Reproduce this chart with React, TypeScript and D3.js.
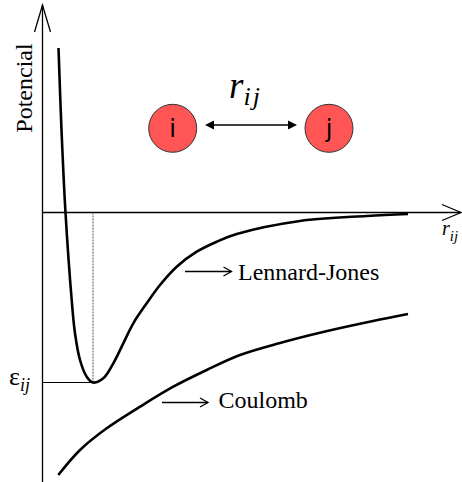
import { useMemo } from 'react'
import * as d3 from 'd3';

// Lennard-Jones curve (r and potential in arbitrary units)
const ljR = [0.16, 0.19, 0.23, 0.292, 0.325, 0.375, 0.442, 0.505, 0.608, 0.708, 0.808, 0.908, 1.042, 1.175, 1.342, 1.542, 1.742, 1.942, 2.575, 3.245, 3.655];
const ljV = [1.645, 0.825, 0, -0.875, -1.208, -1.475, -1.642, -1.70, -1.658, -1.508, -1.308, -1.108, -0.908, -0.725, -0.542, -0.392, -0.292, -0.215, -0.085, -0.035, -0.015];

// Coulomb curve
const coulR = [0.158, 0.375, 0.642, 0.975, 1.308, 1.642, 1.975, 2.375, 2.805, 3.305, 3.655];
const coulV = [-2.625, -2.375, -2.158, -1.942, -1.742, -1.575, -1.425, -1.305, -1.195, -1.085, -1.015];

// Minimum of the well (epsilon_ij)
const epsR = 0.505;
const epsV = -1.70;

const width = 462, height = 482;

const serif = '"Liberation Serif", "Times New Roman", serif';

const App = () => {

  // Declare the scales: 1 unit = 100px
  const x = d3.scaleLinear().domain([0, 4.2]).range([42.5, 462.5]);
  const y = d3.scaleLinear().domain([-2.7, 2.1]).range([482.5, 2.5]);

  const line = d3.line<[number, number]>()
    .x((d) => x(d[0]))
    .y((d) => y(d[1]))
    .curve(d3.curveCatmullRom.alpha(0.5));

  const ljPath = useMemo(() => line(ljR.map((r, i) => [r, ljV[i]])), []);
  const coulPath = useMemo(() => line(coulR.map((r, i) => [r, coulV[i]])), []);

  const x0 = x(0), y0 = y(0);

  // small open arrow used by the labels
  const labelArrow = (x1: number, x2: number, yy: number) => (
    <g stroke="#000" strokeWidth={1.3} fill="none">
      <line x1={x1} y1={yy} x2={x2} y2={yy} />
      <path d={`M${x2 - 8},${yy - 4.5} L${x2},${yy} L${x2 - 8},${yy + 4.5}`} />
    </g>
  );

  return (
    <svg width={width} height={height} viewBox={`0 0 ${width} ${height}`}
      style={{ position: 'absolute', left: 0, top: 0, background: '#fff' }}>

      {/* axes */}
      <g stroke="#000" strokeWidth={1.3} fill="none">
        <line x1={x0} y1={height} x2={x0} y2={5} />
        <path d={`M${x0 - 8},32 L${x0},5 L${x0 + 8},32`} />
        <line x1={x0} y1={y0} x2={461} y2={y0} />
        <path d={`M442,${y0 - 8} L461,${y0} L442,${y0 + 8}`} />
      </g>

      {/* epsilon guide lines */}
      <line x1={x0} y1={y(epsV)} x2={x(epsR)} y2={y(epsV)} stroke="#000" strokeWidth={1.2} />
      <line x1={x(epsR)} y1={y0} x2={x(epsR)} y2={y(epsV)} stroke="#555" strokeWidth={1} strokeDasharray="2,1" />

      {/* curves */}
      <path d={ljPath ?? ''} fill="none" stroke="#000" strokeWidth={2.6} />
      <path d={coulPath ?? ''} fill="none" stroke="#000" strokeWidth={2.6} />

      {/* axis labels */}
      <text transform="translate(32,88) rotate(-90)" textAnchor="middle" style={{ fontFamily: serif }} fontSize={24}>Potencial</text>
      <text x={442} y={235} style={{ fontFamily: serif }} fontStyle="italic" fontSize={20}>r
        <tspan fontSize={15} dy={6}>ij</tspan>
      </text>
      <text x={9} y={385} style={{ fontFamily: serif }} fontSize={26}>ε
        <tspan fontSize={18} fontStyle="italic" dy={6}>ij</tspan>
      </text>

      {/* curve labels */}
      {labelArrow(185, 231.5, 271.5)}
      <text x={238} y={280} style={{ fontFamily: serif }} fontSize={24}>Lennard-Jones</text>
      {labelArrow(162, 208, 402.5)}
      <text x={218.5} y={408} style={{ fontFamily: serif }} fontSize={24}>Coulomb</text>

      {/* particles */}
      <g>
        <circle cx={172.7} cy={128.3} r={24} fill="#ff5555" stroke="#333" strokeWidth={1} />
        <circle cx={329} cy={128.3} r={24} fill="#ff5555" stroke="#333" strokeWidth={1} />
        <text x={172.7} y={137} textAnchor="middle" style={{ fontFamily: '"DejaVu Sans", sans-serif' }} fontSize={24}>i</text>
        <text x={329} y={137} textAnchor="middle" style={{ fontFamily: '"DejaVu Sans", sans-serif' }} fontSize={24}>j</text>
        <line x1={212} y1={125} x2={290} y2={125} stroke="#000" strokeWidth={1.5} />
        <path d="M205,125 L214,120.5 L214,129.5 Z" fill="#000" />
        <path d="M297,125 L288,120.5 L288,129.5 Z" fill="#000" />
        <text x={229} y={98} style={{ fontFamily: serif }} fontStyle="italic" fontSize={37}>r
          <tspan fontSize={26} dy={7} letterSpacing={2}>ij</tspan>
        </text>
      </g>
    </svg>
  );
}

export default App;
